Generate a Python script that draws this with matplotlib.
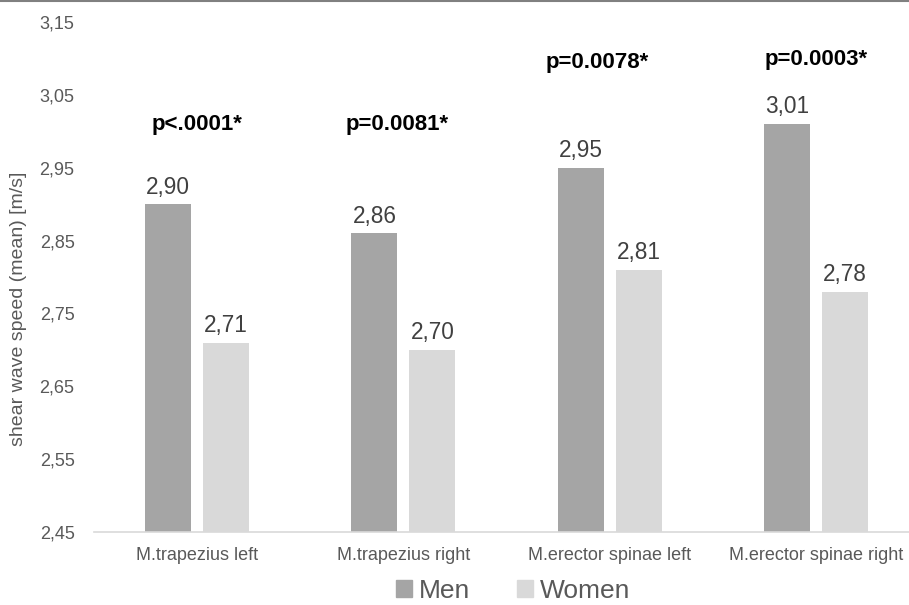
import matplotlib
matplotlib.use("Agg")
import matplotlib.pyplot as plt
from matplotlib.patches import Patch
from matplotlib.lines import Line2D
import numpy as np

plt.rcParams['font.family'] = ['Liberation Sans', 'DejaVu Sans']

# data
muscles = ["M.trapezius left", "M.trapezius right", "M.erector spinae left", "M.erector spinae right"]
men = [2.90, 2.86, 2.95, 3.01]
women = [2.71, 2.70, 2.81, 2.78]
p_labels = ["p<.0001*", "p=0.0081*", "p=0.0078*", "p=0.0003*"]
y_ticks = [2.45, 2.55, 2.65, 2.75, 2.85, 2.95, 3.05, 3.15]

# where the p-value labels sit (data units)
p_y = [3.01, 3.01, 3.094, 3.099]
p_dx = [0.0, -0.03, -0.06, 0.0]

men_color = "#a5a5a5"
women_color = "#d9d9d9"

fig = plt.figure(figsize=(9.09, 6.05), dpi=100)
ax = fig.add_axes([94 / 909, 73 / 605, 825 / 909, 510 / 605])

x = np.arange(len(muscles))
w = 0.223
off = 0.1406
ax.bar(x - off, np.array(men) - 2.45, w, bottom=2.45, color=men_color)
ax.bar(x + off, np.array(women) - 2.45, w, bottom=2.45, color=women_color)

for xi, v in zip(x - off, men):
    ax.annotate(f"{v:.2f}".replace(".", ","), (xi, v), xytext=(0, 4), textcoords="offset points",
                ha="center", va="bottom", fontsize=16.3, color="#404040")
for xi, v in zip(x + off, women):
    ax.annotate(f"{v:.2f}".replace(".", ","), (xi, v), xytext=(0, 4), textcoords="offset points",
                ha="center", va="bottom", fontsize=16.3, color="#404040")

for xi, yy, dx, lab in zip(x, p_y, p_dx, p_labels):
    ax.text(xi + dx, yy, lab, ha="center", va="center", fontsize=16, fontweight="bold", color="black")

ax.set_xlim(-0.5, 3.5)
ax.set_ylim(2.45, 3.15)
ax.set_yticks(y_ticks)
ax.set_yticklabels([f"{t:.2f}".replace(".", ",") for t in y_ticks])
ax.set_xticks(x)
ax.set_xticklabels(muscles)
ax.tick_params(axis="y", length=0, pad=14, labelsize=13, labelcolor="#595959")
ax.tick_params(axis="x", length=0, pad=11, labelsize=13, labelcolor="#595959")
for s in ["top", "right", "left"]:
    ax.spines[s].set_visible(False)
ax.spines["bottom"].set_color("#d9d9d9")
ax.spines["bottom"].set_linewidth(1.2)

fig.text(19 / 909, 1 - 309 / 605, "shear wave speed (mean) [m/s]", rotation=90,
         ha="center", va="center", fontsize=14, color="#595959")

handles = [Patch(color=men_color), Patch(color=women_color)]
fig.legend(handles, ["Men", "Women"], loc="center", bbox_to_anchor=(513 / 909, 1 - 591 / 605),
           ncol=2, frameon=False, fontsize=19, labelcolor="#595959",
           handlelength=0.6, handleheight=0.6, handletextpad=0.25, columnspacing=1.8)

# thin border line at the very top of the image
fig.add_artist(Line2D([0, 1], [0.999, 0.999], transform=fig.transFigure, color="#808080", lw=1.5))

fig.savefig("out.png", dpi=100)
